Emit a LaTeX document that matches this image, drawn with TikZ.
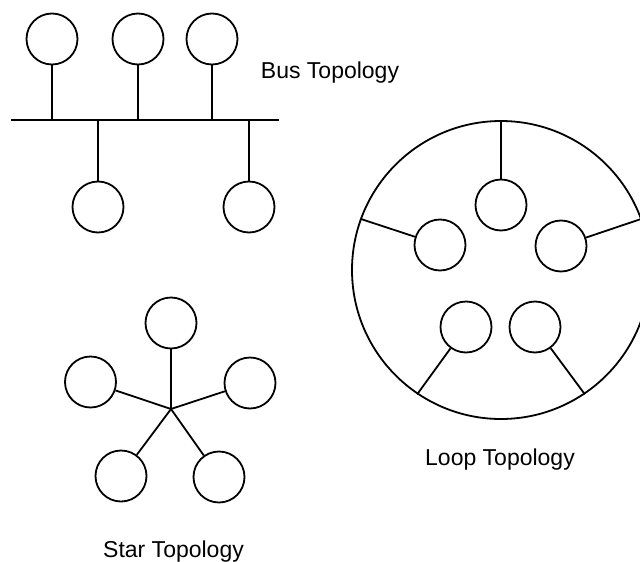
\documentclass[tikz,border=0pt]{standalone}
\usepackage{fontspec}
\setmainfont{Liberation Sans}
\begin{document}
\begin{tikzpicture}[x=1pt,y=-1pt,
  stn/.style={draw,circle,line width=1.8pt,minimum size=51pt,inner sep=0pt},
  ring/.style={draw,circle,line width=1.8pt,minimum size=298pt,inner sep=0pt},
  wire/.style={line width=1.8pt},
  lbl/.style={anchor=base,inner sep=0pt,font=\fontsize{23}{27}\selectfont}]
\useasboundingbox (0,0) rectangle (640,562);
% Bus topology
\coordinate (busL) at (11,120);
\coordinate (busR) at (279,120);
\node[stn] (b1) at (52,39) {};
\node[stn] (b2) at (138,39) {};
\node[stn] (b3) at (212,39) {};
\node[stn] (b4) at (98,207) {};
\node[stn] (b5) at (249,207) {};
\draw[wire] (busL) -- (busR);
\draw[wire] (b1.south) -- (b1.south |- busL);
\draw[wire] (b2.south) -- (b2.south |- busL);
\draw[wire] (b3.south) -- (b3.south |- busL);
\draw[wire] (b4.north) -- (b4.north |- busL);
\draw[wire] (b5.north) -- (b5.north |- busL);
\node[lbl] (busT) at (330,78) {Bus Topology};
% Star topology
\coordinate (hub) at (171,409);
\node[stn] (s1) at (171,323) {};
\node[stn] (s2) at (90.5,382) {};
\node[stn] (s3) at (250,383) {};
\node[stn] (s4) at (121,476) {};
\node[stn] (s5) at (219,477) {};
\foreach \n in {s1,s2,s3,s4,s5} \draw[wire] (hub) -- (\n);
\node[lbl] (starT) at (173.5,557) {Star Topology};
% Loop topology
\node[ring] (L) at (501,270) {};
\node[stn] (l1) at (501,205) {};
\node[stn] (l2) at (440,245) {};
\node[stn] (l3) at (561,246) {};
\node[stn] (l4) at (466,327) {};
\node[stn] (l5) at (535,327) {};
\draw[wire] (l1) -- (L.90);
\draw[wire] (l2) -- (L.160);
\draw[wire] (l3) -- (L.20);
\draw[wire] (l4) -- (L.236);
\draw[wire] (l5) -- (L.304);
\node[lbl] (loopT) at (500,465) {Loop Topology};
\end{tikzpicture}
\end{document}
